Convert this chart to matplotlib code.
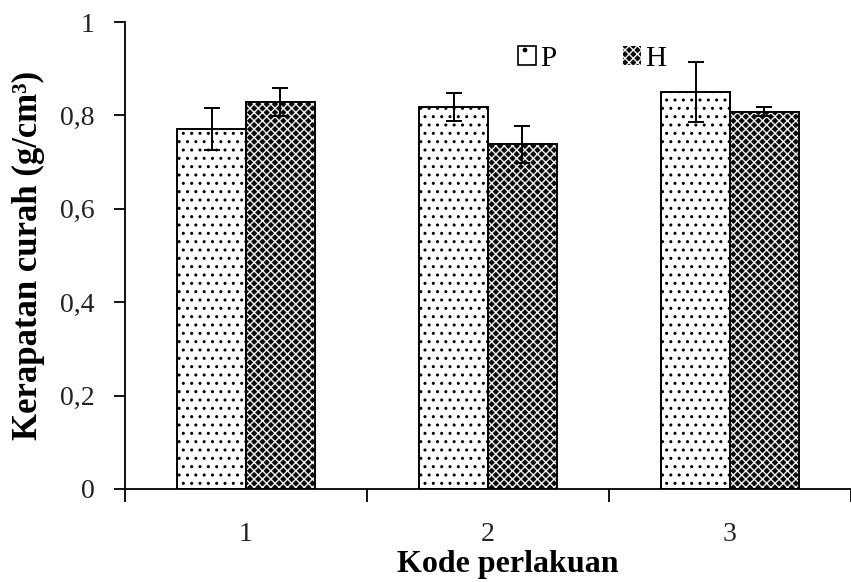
import matplotlib
matplotlib.use("Agg")
import matplotlib.pyplot as plt
import numpy as np
from matplotlib.patches import Patch

categories = ["1", "2", "3"]
p_values = [0.77, 0.818, 0.85]
p_err = [0.045, 0.03, 0.065]
h_values = [0.829, 0.738, 0.808]
h_err = [0.03, 0.04, 0.01]
y_ticks = [0, 0.2, 0.4, 0.6, 0.8, 1.0]
y_ticklabels = ["0", "0,2", "0,4", "0,6", "0,8", "1"]

plt.rcParams["font.family"] = ["Liberation Serif", "DejaVu Serif"]
plt.rcParams["hatch.linewidth"] = 1.0

fig = plt.figure(figsize=(8.51, 5.82), dpi=100)
ax = fig.add_axes([125/851, 93/582, 726/851, 467/582])

x = np.arange(1, len(categories) + 1)
w = 0.285
off = 0.1425
dark = "#0a0a0a"

# P bars: white with dots
ax.bar(x - off, p_values, w, facecolor="white", edgecolor="black",
       hatch="..", linewidth=1.4, zorder=2)
# H bars: dark with white cross-hatch
ax.bar(x + off, h_values, w, facecolor=dark, edgecolor="#f0f0f0",
       hatch="xxxx", linewidth=0, zorder=2)
ax.bar(x + off, h_values, w, fill=False, edgecolor="black",
       linewidth=1.4, zorder=3)

ax.errorbar(x - off, p_values, yerr=p_err, fmt="none", ecolor="black",
            elinewidth=1.4, capsize=6, capthick=1.4, zorder=4)
ax.errorbar(x + off, h_values, yerr=h_err, fmt="none", ecolor="black",
            elinewidth=1.4, capsize=6, capthick=1.4, zorder=4)

ax.set_xlim(0.5, 0.5 + 726/246.5)
ax.set_ylim(0, 1)
ax.spines["top"].set_visible(False)
ax.spines["right"].set_visible(False)
for s in ["left", "bottom"]:
    ax.spines[s].set_linewidth(1.3)

ax.set_yticks(y_ticks)
ax.set_yticklabels(y_ticklabels)
ax.set_xticks(x)
ax.set_xticklabels(categories)
ax.set_xticks([0.5, 1.5, 2.5, 3.5], minor=True)
ax.tick_params(axis="x", which="major", length=0, pad=24, labelsize=20)
ax.tick_params(axis="x", which="minor", length=9, width=1.3, direction="out")
ax.tick_params(axis="y", length=8, width=1.3, direction="out", labelsize=20, pad=14)
for lab in ax.get_xticklabels() + ax.get_yticklabels():
    lab.set_color("#222222")

ax.set_ylabel("Kerapatan curah (g/cm³)", fontsize=25, fontweight="bold")
ax.yaxis.set_label_coords(-0.110, 0.5)
ax.set_xlabel("Kode perlakuan", fontsize=23, fontweight="bold")
ax.xaxis.set_label_coords((508-125)/726, -0.131)

handles = [Patch(facecolor="white", edgecolor="black", hatch=".", linewidth=1.2),
           Patch(facecolor=dark, edgecolor="#f0f0f0", hatch="xxxx", linewidth=0)]
leg = ax.legend(handles, ["P", "H"], loc="upper left",
                bbox_to_anchor=((492-125)/726, 1.005), ncol=2, frameon=False,
                fontsize=21, handlelength=0.6, handleheight=0.65,
                handletextpad=0.15, columnspacing=2.3)

fig.savefig("out.png", dpi=100)
